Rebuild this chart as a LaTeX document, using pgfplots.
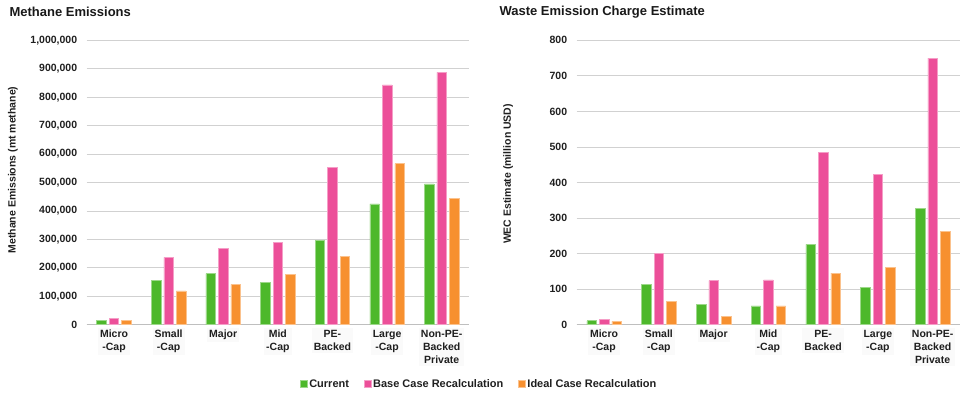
\documentclass[border=0pt]{standalone}
\usepackage{fontspec}
\setmainfont{Liberation Sans}
\usepackage{pgfplots}
\pgfplotsset{compat=1.18}
\definecolor{cgreen}{HTML}{4DB82B}
\definecolor{cpink}{HTML}{EC4F99}
\definecolor{corange}{HTML}{F7902F}
\pgfplotsset{
  mystyle/.style={
    scale only axis, height=284.4pt,
    ybar=3pt, bar width=9.5pt,
    xmin=-0.5, xmax=6.5, ymin=0,
    xtick={0,...,6},
    xticklabels={Micro\\-Cap, Small\\-Cap, Major, Mid\\-Cap, PE-\\Backed, Large\\-Cap, Non-PE-\\Backed\\Private},
    axis lines*=left,
    y axis line style={draw=none},
    x axis line style={draw=black!25, line width=1pt},
    ymajorgrids, grid style={draw=black!18, line width=0.8pt},
    major tick length=0pt,
    tick label style={font=\bfseries\fontsize{10.5}{13.3}\selectfont, text=black!88},
    xticklabel style={align=center, yshift=-3pt, fill=black!2, inner sep=2pt},
    yticklabel style={xshift=-6pt},
    /pgf/number format/assume math mode=true,
    /pgf/number format/.cd, fixed, 1000 sep={,}, /pgfplots/.cd,
    scaled y ticks=false,
    every axis plot/.append style={line width=0.6pt},
  }
}
\pgfplotstableread{
x cur base ideal
0 15000 22000 15000
1 155000 237000 119000
2 180000 269000 142000
3 150000 290000 177000
4 297000 553000 239000
5 425000 843000 566000
6 495000 887000 444000
}\methane
\pgfplotstableread{
x cur base ideal
0 11 15 9.5
1 114 200 66
2 57 124 23
3 53 126 53
4 226 485 145
5 106 422 161
6 327 750 263
}\wec
\begin{document}
\begin{tikzpicture}
\path[use as bounding box] (0pt,0pt) rectangle (971pt,394pt);
\node[anchor=west, font=\bfseries\fontsize{13}{15}\selectfont, text=black!90] at (6pt,382pt) {Methane Emissions};
\node[anchor=west, font=\bfseries\fontsize{13}{15}\selectfont, text=black!90] at (496pt,382pt) {Waste Emission Charge Estimate};
\begin{axis}[mystyle, width=382.3pt, at={(86.7pt,69.3pt)}, anchor=south west,
  ymax=1000000, ytick={0,100000,...,1000000},
  ylabel={Methane Emissions (mt methane)},
  every axis y label/.style={at={(axis description cs:-0.193,0.544)}, rotate=90, anchor=center,
    font=\bfseries\fontsize{10.5}{12}\selectfont, text=black!88},
  legend columns=-1,
  legend style={at={(axis description cs:1.027,-0.2085)}, anchor=center, draw=none, fill=none,
    font=\bfseries\fontsize{11}{13}\selectfont, text=black!88,
    /tikz/every even column/.append style={column sep=13pt}},
  legend image code/.code={\fill[#1] (0pt,-3pt) rectangle (6.5pt,3.5pt);},
]
\addplot[fill=cgreen, draw=cgreen!55!white] table[x=x,y=cur] {\methane};
\addplot[fill=cpink, draw=cpink!55!white] table[x=x,y=base] {\methane};
\addplot[fill=corange, draw=corange!55!white] table[x=x,y=ideal] {\methane};
\legend{Current, Base Case Recalculation, Ideal Case Recalculation}
\end{axis}
\begin{axis}[mystyle, width=383.3pt, at={(576.7pt,69.3pt)}, anchor=south west,
  ymax=800, ytick={0,100,...,800},
  ylabel={WEC Estimate (million USD)},
  every axis y label/.style={at={(axis description cs:-0.179,0.53)}, rotate=90, anchor=center,
    font=\bfseries\fontsize{10.5}{12}\selectfont, text=black!88},
]
\addplot[fill=cgreen, draw=cgreen!55!white] table[x=x,y=cur] {\wec};
\addplot[fill=cpink, draw=cpink!55!white] table[x=x,y=base] {\wec};
\addplot[fill=corange, draw=corange!55!white] table[x=x,y=ideal] {\wec};
\end{axis}
\end{tikzpicture}
\end{document}
